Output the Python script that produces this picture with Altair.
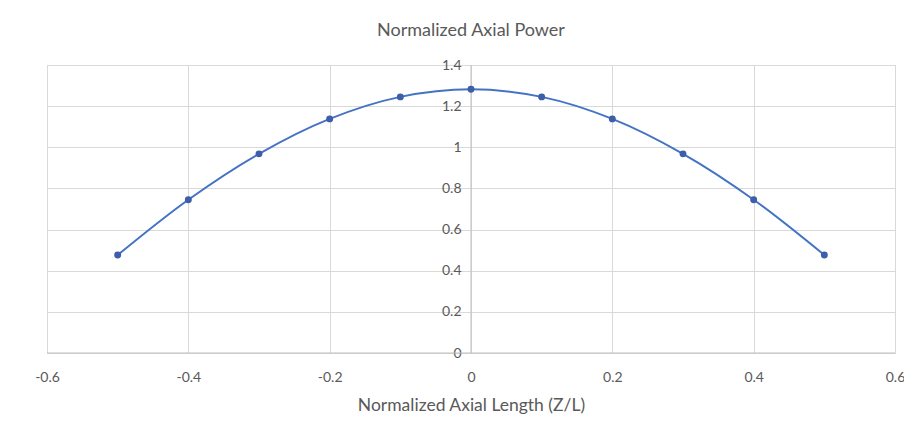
import altair as alt
import pandas as pd

z = [-0.5, -0.4, -0.3, -0.2, -0.1, 0.0, 0.1, 0.2, 0.3, 0.4, 0.5]
power = [0.476, 0.745, 0.968, 1.138, 1.245, 1.282, 1.245, 1.138, 0.968, 0.745, 0.476]
x_ticks = [-0.6, -0.4, -0.2, 0, 0.2, 0.4, 0.6]
y_ticks = [0, 0.2, 0.4, 0.6, 0.8, 1.0, 1.2, 1.4]

df = pd.DataFrame({"z": z, "p": power})

FONT = "Lato"
GREY = "#595959"
LABEL_EXPR = "datum.value < 0 ? '-' + format(-datum.value, '~g') : format(datum.value, '~g')"

x_enc = alt.X(
    "z:Q",
    scale=alt.Scale(domain=[-0.6, 0.6], nice=False, zero=False),
    axis=alt.Axis(
        values=x_ticks,
        labelExpr=LABEL_EXPR,
        title="Normalized Axial Length (Z/L)",
        grid=True,
        gridColor="#d9d9d9",
        domain=False,
        ticks=False,
        labelPadding=17,
        labelFontSize=14,
        labelColor=GREY,
        labelFont=FONT,
        titleFont=FONT,
        titleFontSize=17.5,
        titleFontWeight="normal",
        titleColor=GREY,
        titlePadding=12,
        labelFlush=False,
    ),
)
y_enc = alt.Y(
    "p:Q",
    scale=alt.Scale(domain=[0, 1.4], nice=False),
    axis=alt.Axis(
        values=y_ticks,
        labelExpr=LABEL_EXPR,
        title=None,
        grid=True,
        gridColor="#d9d9d9",
        domain=False,
        ticks=False,
        offset=-426,
        labelPadding=12,
        labelFontSize=14,
        labelColor=GREY,
        labelFont=FONT,
        labelFlush=False,
    ),
)

line = alt.Chart(df).mark_line(
    color="#4472C4", strokeWidth=2, interpolate="catmull-rom"
).encode(x=x_enc, y=y_enc)

pts = alt.Chart(df).mark_point(
    filled=True, color="#3d5ea8", size=48, opacity=1
).encode(x="z:Q", y="p:Q")

zero_line = alt.Chart(pd.DataFrame({"y0": [0]})).mark_rule(
    color="#bfbfbf", strokeWidth=1
).encode(y="y0:Q")

center_line = alt.Chart(pd.DataFrame({"x0": [0]})).mark_rule(
    color="#bfbfbf", strokeWidth=1
).encode(x="x0:Q")

chart = (
    alt.layer(zero_line, center_line, line, pts)
    .properties(
        width=848,
        height=288,
        autosize=alt.AutoSizeParams(type="none"),
        padding={"left": 47, "top": 65, "right": 9, "bottom": 72},
        title=alt.TitleParams(
            "Normalized Axial Power",
            font=FONT,
            fontSize=18,
            fontWeight="normal",
            color=GREY,
            anchor="middle",
            offset=18,
        ),
    )
    .configure_view(stroke=None)
    .configure(background="white")
)

chart.save("out.html", embed_options={"renderer": "svg", "actions": False})
